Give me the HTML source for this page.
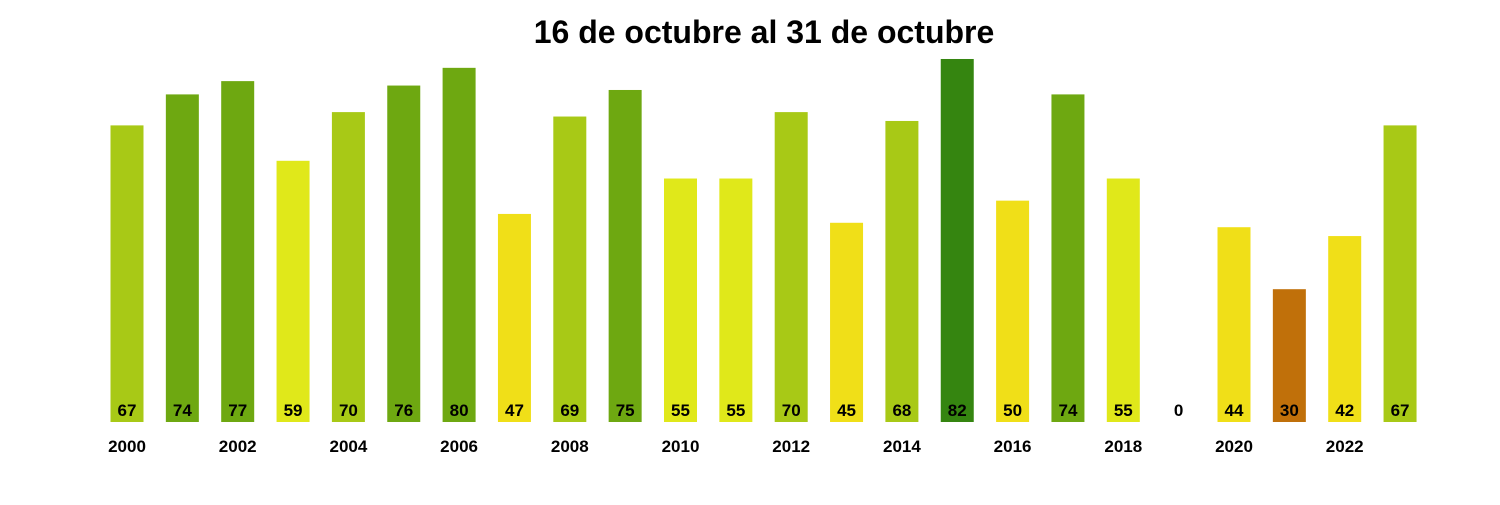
<!DOCTYPE html>
<html><head><meta charset="utf-8"><style>
body{margin:0;background:#fff;}
svg text{font-family:"Liberation Sans",Arial,sans-serif;font-weight:bold;}
</style></head><body>
<svg width="1500" height="500" id="chart">
<text x="764" y="43" text-anchor="middle" font-size="32">16 de octubre al 31 de octubre</text>
<g id="bars"></g>
</svg>
<script>
const years=[2000,2001,2002,2003,2004,2005,2006,2007,2008,2009,2010,2011,2012,2013,2014,2015,2016,2017,2018,2019,2020,2021,2022,2023];
const values=[67,74,77,59,70,76,80,47,69,75,55,55,70,45,68,82,50,74,55,0,44,30,42,67];
const tickYears=[2000,2002,2004,2006,2008,2010,2012,2014,2016,2018,2020,2022];
const x=i=>127+i*55.35;
const y=v=>422-v*4.427;
function color(v){
  if(v>=82)return '#358510';
  if(v>=74)return '#6ea811';
  if(v>=60)return '#a8c916';
  if(v>=52)return '#e0e81a';
  if(v>=40)return '#f0df18';
  return '#c0700a';
}
const g=document.getElementById('bars');
const NS='http://www.w3.org/2000/svg';
values.forEach((v,i)=>{
  const r=document.createElementNS(NS,'rect');
  r.setAttribute('x',x(i)-16.5);r.setAttribute('width',33);
  r.setAttribute('y',y(v));r.setAttribute('height',422-y(v));
  r.setAttribute('fill',color(v));
  
  
  g.appendChild(r);
  const t=document.createElementNS(NS,'text');
  t.setAttribute('x',x(i));t.setAttribute('y',416);
  t.setAttribute('text-anchor','middle');t.setAttribute('font-size','17');
  t.textContent=v;
  
  
  g.appendChild(t);
});
tickYears.forEach(yr=>{
  const i=years.indexOf(yr);
  const t=document.createElementNS(NS,'text');
  t.setAttribute('x',x(i));t.setAttribute('y',452);
  t.setAttribute('text-anchor','middle');t.setAttribute('font-size','17');
  t.textContent=yr;
  
  
  g.appendChild(t);
});
</script>
</body></html>
